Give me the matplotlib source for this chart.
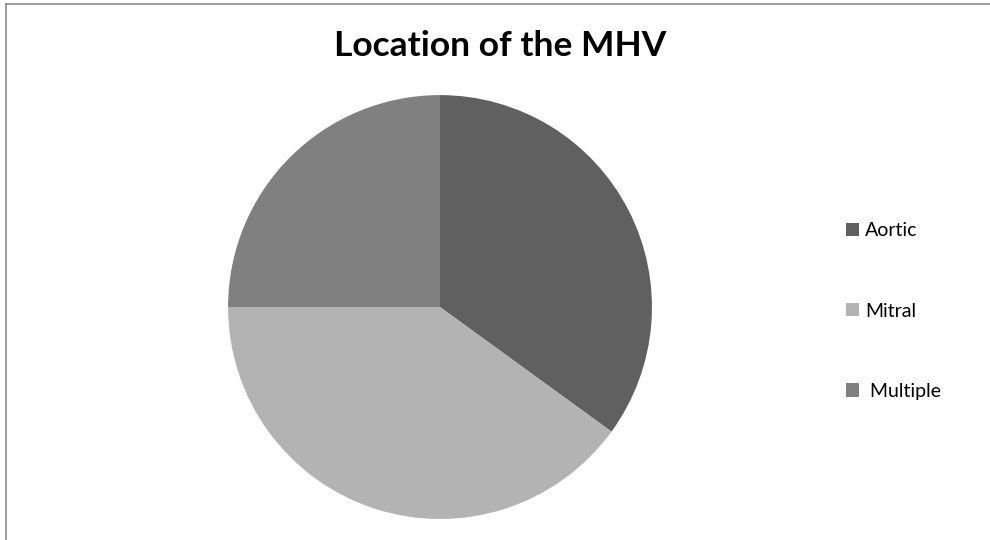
import matplotlib.pyplot as plt
from matplotlib.lines import Line2D

labels = ['Aortic', 'Mitral', ' Multiple']
values = [35, 40, 25]
colors = ['#606060', '#b3b3b3', '#808080']

plt.rcParams['font.family'] = ['Lato', 'DejaVu Sans']

fig = plt.figure(figsize=(9.9, 5.4), dpi=100)
ax = fig.add_axes([0.2303, 0.0389, 0.4283, 0.785])
wedges, _ = ax.pie(values, colors=colors, startangle=90, counterclock=False,
                   wedgeprops=dict(linewidth=0))
ax.set_xlim(-1, 1)
ax.set_ylim(-1, 1)
ax.set_aspect('equal')

fig.text(0.505, 0.915, 'Location of the MHV', ha='center', va='center',
         fontsize=25.5, fontweight='bold', color='black')

fig.legend(wedges, labels, loc='center left', bbox_to_anchor=(0.837, 0.424),
           frameon=False, fontsize=14, handlelength=0.67, handleheight=0.67,
           handletextpad=0.3, labelspacing=3.25)

# frame lines of the chart area
fig.add_artist(Line2D([6/990, 6/990], [0, 1 - 4/540], color='#8c8c8c', lw=1.2,
                      transform=fig.transFigure))
fig.add_artist(Line2D([6/990, 1], [1 - 4/540, 1 - 4/540], color='#8c8c8c', lw=1.2,
                      transform=fig.transFigure))

fig.savefig('out.png', dpi=100)
